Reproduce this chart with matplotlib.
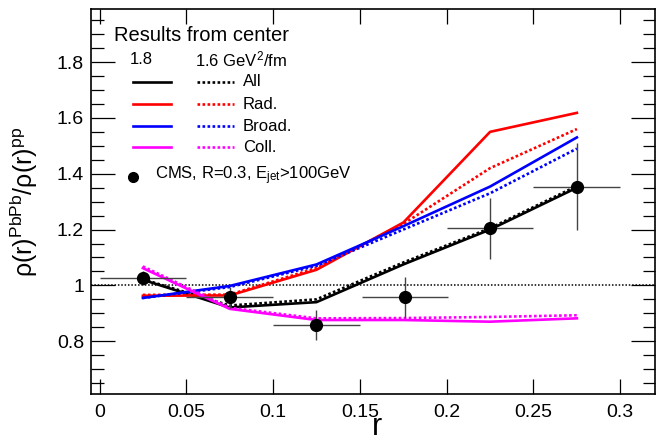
import numpy as np
import matplotlib
matplotlib.use("Agg")
import matplotlib.pyplot as plt
from matplotlib.ticker import MultipleLocator

plt.rcParams['font.family'] = ['Liberation Sans', 'DejaVu Sans']
plt.rcParams['mathtext.fontset'] = 'custom'
plt.rcParams['mathtext.rm'] = 'Liberation Sans'
plt.rcParams['mathtext.it'] = 'Liberation Sans'
plt.rcParams['mathtext.bf'] = 'Liberation Sans:bold'

# model curves (solid = 1.8, dotted = 1.6 GeV^2/fm)
r = [0.025, 0.075, 0.125, 0.175, 0.225, 0.275]
all_18 = [1.020, 0.921, 0.940, 1.075, 1.200, 1.350]
all_16 = [1.022, 0.928, 0.950, 1.082, 1.205, 1.356]
rad_18 = [0.963, 0.964, 1.056, 1.225, 1.550, 1.618]
rad_16 = [0.966, 0.967, 1.062, 1.220, 1.420, 1.560]
broad_18 = [0.955, 0.998, 1.075, 1.212, 1.354, 1.530]
broad_16 = [0.955, 0.994, 1.070, 1.200, 1.330, 1.490]
coll_18 = [1.062, 0.916, 0.876, 0.876, 0.870, 0.882]
coll_16 = [1.068, 0.920, 0.882, 0.883, 0.887, 0.893]

# CMS data
cms_r = [0.025, 0.075, 0.125, 0.176, 0.225, 0.275]
cms_y = [1.027, 0.958, 0.858, 0.957, 1.204, 1.354]
cms_xerr = [0.025, 0.025, 0.025, 0.025, 0.025, 0.025]
cms_yerr = [0.025, 0.038, 0.055, 0.072, 0.110, 0.155]

series = [
    ("All", "black", all_18, all_16),
    ("Rad.", "#ff0000", rad_18, rad_16),
    ("Broad.", "#0000ff", broad_18, broad_16),
    ("Coll.", "#ff00ff", coll_18, coll_16),
]

fig = plt.figure(figsize=(6.63, 4.41), dpi=100)
ax = fig.add_axes([91/663, 1 - 394/441, 564/663, 385/441])

dot = (0, (1.0, 0.9))
ax.axhline(1.0, color="black", lw=1.1, ls=(0, (1.0, 1.2)), zorder=1)

for name, col, s18, s16 in series:
    ax.plot(r, s18, color=col, lw=1.9, zorder=3)
    ax.plot(r, s16, color=col, lw=1.9, ls=dot, zorder=3)

ax.errorbar(cms_r, cms_y, xerr=cms_xerr, yerr=cms_yerr, fmt="o", color="black",
            ms=8.5, ecolor="#444444", elinewidth=1.0, capsize=0, zorder=4)

ax.set_xlim(-0.0049, 0.32)
ax.set_ylim(0.611, 1.99)
ax.set_xticks([0, 0.05, 0.1, 0.15, 0.2, 0.25, 0.3])
ax.set_xticklabels(["0", "0.05", "0.1", "0.15", "0.2", "0.25", "0.3"])
ax.set_yticks([0.8, 1.0, 1.2, 1.4, 1.6, 1.8])
ax.set_yticklabels(["0.8", "1", "1.2", "1.4", "1.6", "1.8"])
ax.yaxis.set_minor_locator(MultipleLocator(0.05))
ax.tick_params(which="both", direction="in", top=True, right=True, width=0.9)
ax.tick_params(axis="x", which="major", length=11, labelsize=14, pad=7)
ax.tick_params(axis="y", which="major", length=17, labelsize=14, pad=5)
ax.tick_params(axis="y", which="minor", length=9)
for sp in ax.spines.values():
    sp.set_linewidth(1.2)

ax.set_xlabel("r", fontsize=22, va="baseline")
ax.xaxis.set_label_coords((377 - 91) / 564, -(435 - 394) / 385)
ax.set_ylabel(r"$\rho(\mathrm{r})^{\mathrm{PbPb}}/\rho(\mathrm{r})^{\mathrm{pp}}$", fontsize=18)
ax.yaxis.set_label_coords(-0.09, 0.5)

# legend drawn by hand, ROOT style
tr = ax.transAxes
ax.text(0.041, 0.931, "Results from center", transform=tr, fontsize=14.5, va="center")
ax.text(0.069, 0.868, "1.8", transform=tr, fontsize=12, va="center")
ax.text(0.184, 0.868, r"1.6 GeV$^{2}$/fm", transform=tr, fontsize=12, va="center")
rows_y = [0.811, 0.753, 0.696, 0.641]
for (name, col, s18, s16), yy in zip(series, rows_y):
    ax.plot([0.074, 0.142], [yy, yy], color=col, lw=1.9, transform=tr)
    ax.plot([0.188, 0.254], [yy, yy], color=col, lw=1.9, ls=dot, transform=tr)
    ax.text(0.269, yy, name, transform=tr, fontsize=12, va="center")
ax.plot([0.0745], [0.564], "o", color="black", ms=7, transform=tr)
ax.text(0.113, 0.566, r"CMS, R=0.3, E$_{\mathrm{jet}}$>100GeV", transform=tr,
        fontsize=12, va="center")

fig.savefig("out.png", dpi=100)
